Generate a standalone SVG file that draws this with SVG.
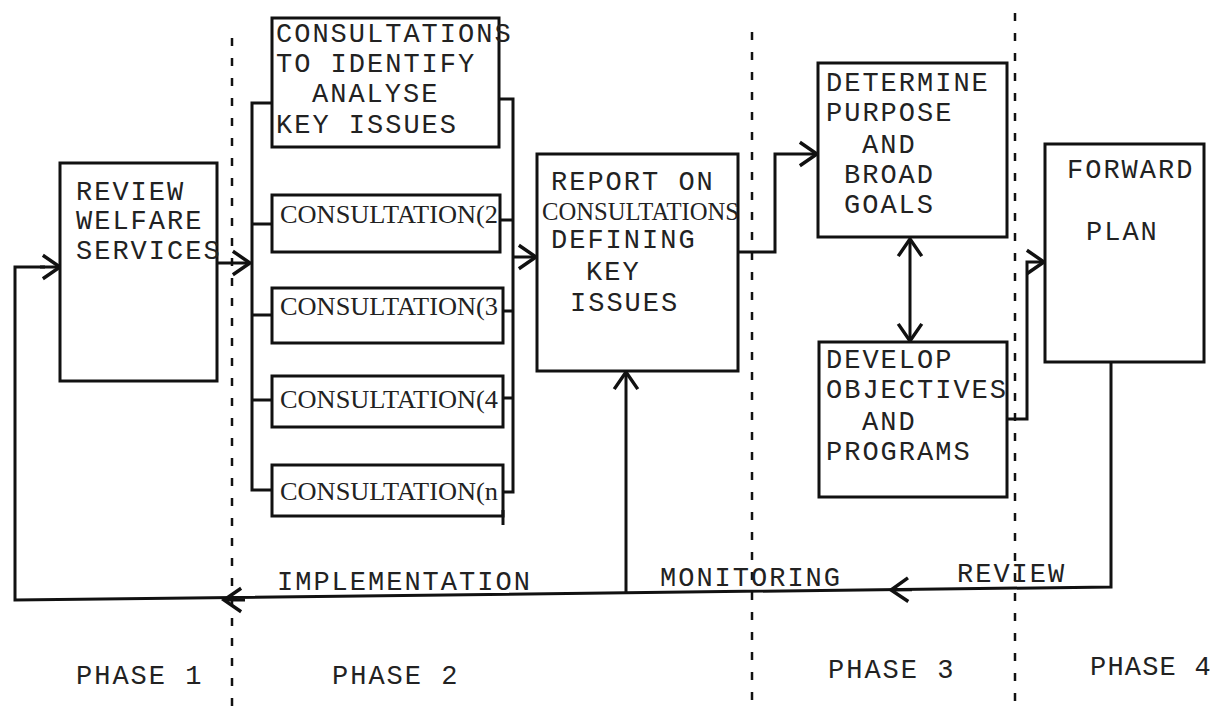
<svg xmlns="http://www.w3.org/2000/svg" width="1219" height="712" viewBox="0 0 1219 712">
<style>
.bx{fill:#fff;stroke:#111;stroke-width:3}
.ln{fill:none;stroke:#111;stroke-width:3;stroke-linejoin:miter}
.ar{fill:none;stroke:#111;stroke-width:3;marker-end:url(#ah)}
.dv{fill:none;stroke:#111;stroke-width:2.5;stroke-dasharray:8 12}
.t{font-family:"Liberation Mono","DejaVu Sans Mono",monospace;font-size:27px;letter-spacing:2px;fill:#222}
.s{font-family:"Liberation Serif","DejaVu Serif",serif;font-size:25px;fill:#222}
</style>
<defs>
<marker id="ah" markerUnits="userSpaceOnUse" markerWidth="30" markerHeight="30" viewBox="-20 -14 24 28" refX="0" refY="0" orient="auto" overflow="visible">
<path d="M-16,-11 L0,0 L-16,11" fill="none" stroke="#111" stroke-width="3.2"/>
</marker>
</defs>
<rect width="1219" height="712" fill="#fff"/>
<g id="dividers">
<line class="dv" x1="232" y1="38" x2="232" y2="712"/>
<line class="dv" x1="752" y1="32" x2="752" y2="712"/>
<line class="dv" x1="1015" y1="13" x2="1015" y2="712"/>
</g>
<g id="connectors">
<path class="ln" d="M1111,362 L1111,587 L15,600 L15,267 L45,267"/>
<path class="ar" d="M40,267 L60,267"/>
<path class="ar" d="M245,600 L224,600"/>
<path class="ar" d="M912,589.7 L891,590"/>
<path class="ar" d="M626,593 L626,372"/>
<path class="ar" d="M217,263 L250,263"/>
<path class="ln" d="M272,103 L252,103 L252,490 L272,490"/>
<path class="ln" d="M252,224 L272,224 M252,315 L272,315 M252,400 L272,400"/>
<path class="ln" d="M499,99 L513,99 L513,492 L503,492"/>
<path class="ln" d="M500,220 L513,220 M503,311 L513,311 M503,398 L513,398"/>
<path class="ar" d="M513,257 L536,257"/>
<path class="ar" d="M738,252 L775,252 L775,154 L817,154"/>
<path class="ar" d="M910,290 L910,239"/>
<path class="ar" d="M910,290 L910,341"/>
<path class="ar" d="M1007,419 L1027,419 L1027,262 L1044,262"/>
</g>
<g id="review">
<rect class="bx" x="60" y="163" width="157" height="218"/>
<text class="t" x="76" y="200">REVIEW</text>
<text class="t" x="76" y="229">WELFARE</text>
<text class="t" x="76" y="259">SERVICES</text>
</g>
<g id="consult1">
<rect class="bx" x="272" y="18" width="227" height="129"/>
<text class="t" x="276" y="42">CONSULTATIONS</text>
<text class="t" x="276" y="72">TO IDENTIFY</text>
<text class="t" x="312" y="102">ANALYSE</text>
<text class="t" x="276" y="133">KEY ISSUES</text>
</g>
<g id="consult2">
<rect class="bx" x="272" y="195" width="228" height="57"/>
<text class="s" x="280" y="223" textLength="218" lengthAdjust="spacingAndGlyphs">CONSULTATION(2</text>
</g>
<g id="consult3">
<rect class="bx" x="272" y="288" width="231" height="55"/>
<text class="s" x="280" y="315" textLength="218" lengthAdjust="spacingAndGlyphs">CONSULTATION(3</text>
</g>
<g id="consult4">
<rect class="bx" x="272" y="376" width="231" height="51"/>
<text class="s" x="280" y="408" textLength="218" lengthAdjust="spacingAndGlyphs">CONSULTATION(4</text>
</g>
<g id="consultn">
<rect class="bx" x="272" y="465" width="231" height="51"/>
<line class="ln" x1="503" y1="510" x2="503" y2="525"/>
<text class="s" x="280" y="500" textLength="218" lengthAdjust="spacingAndGlyphs">CONSULTATION(n</text>
</g>
<g id="report">
<rect class="bx" x="537" y="154" width="201" height="217"/>
<text class="t" x="551" y="190">REPORT ON</text>
<text class="s" x="542" y="220" textLength="197" lengthAdjust="spacingAndGlyphs">CONSULTATIONS</text>
<text class="t" x="551" y="248">DEFINING</text>
<text class="t" x="586" y="280">KEY</text>
<text class="t" x="570" y="311">ISSUES</text>
</g>
<g id="determine">
<rect class="bx" x="818" y="63" width="189" height="174"/>
<text class="t" x="826" y="91">DETERMINE</text>
<text class="t" x="826" y="121">PURPOSE</text>
<text class="t" x="862" y="153">AND</text>
<text class="t" x="844" y="183">BROAD</text>
<text class="t" x="844" y="213">GOALS</text>
</g>
<g id="develop">
<rect class="bx" x="819" y="342" width="188" height="155"/>
<text class="t" x="826" y="368">DEVELOP</text>
<text class="t" x="826" y="398">OBJECTIVES</text>
<text class="t" x="862" y="430">AND</text>
<text class="t" x="826" y="460">PROGRAMS</text>
</g>
<g id="forward">
<rect class="bx" x="1045" y="144" width="159" height="218"/>
<text class="t" x="1067" y="178">FORWARD</text>
<text class="t" x="1086" y="240">PLAN</text>
</g>
<g id="labels">
<text class="t" x="277" y="590">IMPLEMENTATION</text>
<text class="t" x="660" y="586">MONITORING</text>
<text class="t" x="957" y="582">REVIEW</text>
<text class="t" x="76" y="684">PHASE 1</text>
<text class="t" x="332" y="684">PHASE 2</text>
<text class="t" x="828" y="678">PHASE 3</text>
<text class="t" x="1090" y="675" style="letter-spacing:1.2px">PHASE 4</text>
</g>
</svg>
